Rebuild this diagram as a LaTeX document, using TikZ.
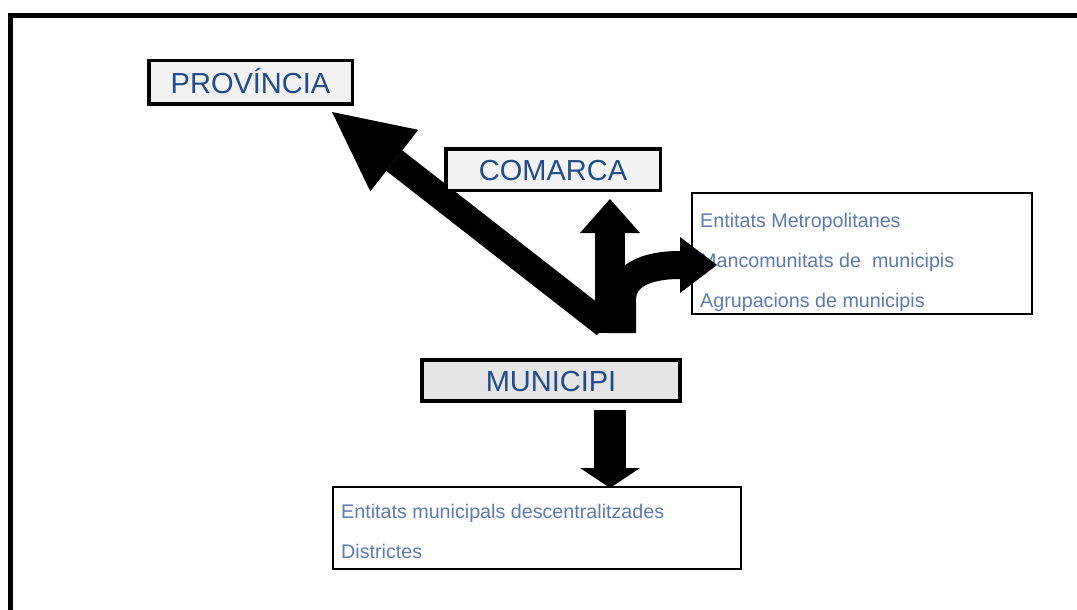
\documentclass[tikz,border=0pt]{standalone}
\usepackage{fontspec}
\setmainfont{Liberation Sans}
\usetikzlibrary{arrows.meta,backgrounds}
\definecolor{titleblue}{RGB}{32,76,135}
\definecolor{itemblue}{RGB}{92,122,176}
\definecolor{boxgray}{RGB}{242,242,242}
\definecolor{boxgraydark}{RGB}{229,229,229}
\begin{document}
\begin{tikzpicture}[x=1pt,y=-1pt,
  titlebox/.style={draw=black,line width=3.5pt,inner sep=0pt,text=titleblue,
    font=\fontsize{29}{34}\selectfont,text height=21pt,text depth=0pt},
  listbox/.style={draw=black,line width=2pt,inner sep=0pt},
  item/.style={anchor=base west,inner sep=0pt,text=itemblue,font=\fontsize{19.7}{23}\selectfont},
  bigarrow/.style={line cap=butt,draw=black}
]
\useasboundingbox (0,0) rectangle (1077,610);
\draw[line width=5pt,line join=miter] (10,612) -- (10,15.5) -- (1080,15.5);

% boxes
\node[titlebox,fill=boxgray,minimum width=203.5pt,minimum height=43.5pt] (prov) at (250.5,82.5) {PROVÍNCIA};
\node[titlebox,fill=boxgray,minimum width=214.5pt,minimum height=41.5pt] (com) at (553,169.5) {COMARCA};
\node[titlebox,fill=boxgraydark,line width=4pt,minimum width=258pt,minimum height=41pt] (mun) at (551,380.5) {MUNICIPI};
\node[listbox,minimum width=340pt,minimum height=121pt] (rbox) at (862,253.5) {};
\node[listbox,line width=2.5pt,minimum width=408pt,minimum height=82pt] (bbox) at (537,528) {};

% list texts
\node[item] (em) at (700,227) {Entitats Metropolitanes};
\node[item] (mm) at (700,267) {Mancomunitats de\ \ municipis};
\node[item] (am) at (700,307) {Agrupacions de municipis};
\node[item] (emd) at (341,518) {Entitats municipals descentralitzades};
\node[item] (dis) at (341,558) {Districtes};

% arrow anchor points
\coordinate (hub) at (610,333);
\coordinate (dstart) at (605,325);
\coordinate (ptip) at (332,112);
\coordinate (ctip) at (610,199);
\coordinate (cstart) at (622,333);
\coordinate (cbend) at (622,300);
\coordinate (rtip) at (717,265);
\coordinate (mtop) at (610,410);
\coordinate (btip) at (610,488);

\begin{pgfonlayer}{background}
\draw[bigarrow,line width=26pt,-{Triangle[length=79pt,width=78pt,line width=0pt]}] (dstart) -- (ptip);
\end{pgfonlayer}
\draw[bigarrow,line width=30pt,-{Triangle[length=34pt,width=60pt,line width=0pt]}] (hub) -- (ctip);
\draw[bigarrow,line width=28pt,-{Triangle[length=37pt,width=56pt,line width=0pt]}]
  (cstart) -- (cbend) .. controls (622,276) and (645,265) .. (680,265) -- (rtip);
\draw[bigarrow,line width=32pt,-{Triangle[length=20pt,width=60pt,line width=0pt]}] (mtop) -- (btip);
\end{tikzpicture}
\end{document}
